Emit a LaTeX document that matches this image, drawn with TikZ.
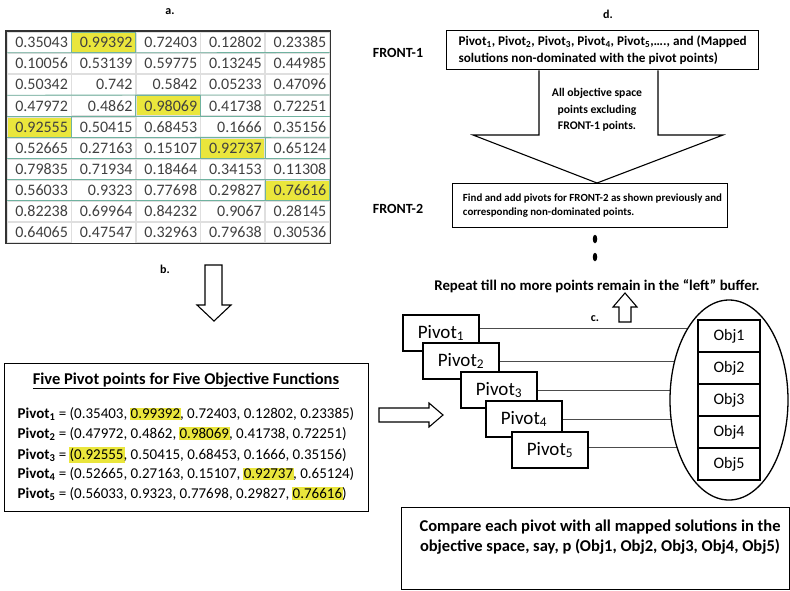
\documentclass[tikz,border=0pt]{standalone}
\usepackage{fontspec}
\setmainfont{Carlito}
\usepackage{tikz}
\usetikzlibrary{shapes.geometric,matrix,positioning,backgrounds}
\definecolor{hlyellow}{RGB}{234,230,60}
\definecolor{gridteal}{RGB}{112,178,160}
\newcommand{\hl}[1]{\hspace{-1pt}{\setlength{\fboxsep}{1pt}\colorbox{hlyellow}{#1}}\hspace{-1pt}}
\newcommand{\fs}[1]{\fontsize{#1}{#1}\selectfont}
\tikzset{
   steplbl/.style={font=\bfseries\fs{12}},
   frontlbl/.style={font=\bfseries\fs{14}},
   pivotbox/.style={draw, fill=white, minimum width=76pt, minimum height=36pt, font=\fs{19}},
   objbox/.style={draw, fill=white, minimum width=62pt, minimum height=32pt, font=\fs{16}},
   blockarrow/.style={draw, line width=1.1pt, fill=white, line join=miter},
   linkline/.style={draw=black!70, line width=0.8pt}
}

\begin{document}
\begin{tikzpicture}[x=1pt, y=-1pt, line width=1.3pt]
   \useasboundingbox (0,0) rectangle (790,590);
   \node[steplbl] (la) at (170,12) {a.};
   \node[steplbl] (lb) at (165,269) {b.};
   \node[steplbl] (lc) at (595,319) {c.};
   \node[steplbl] (ld) at (608,14) {d.};

   \matrix (tab) [matrix of nodes, anchor=north west, inner sep=0pt, row sep=0pt, column sep=0pt,
      nodes={draw=gray!25, line width=0.6pt, minimum height=20.3pt, text width=58pt, inner xsep=3pt, inner ysep=2pt, align=right, font=\fs{16}, text=black!75}] at (6,31) {
      0.35043 & |[fill=hlyellow]| 0.99392 & 0.72403 & 0.12802 & 0.23385 \\
      0.10056 & 0.53139 & 0.59775 & 0.13245 & 0.44985 \\
      0.50342 & 0.742 & 0.5842 & 0.05233 & 0.47096 \\
      0.47972 & 0.4862 & |[fill=hlyellow]| 0.98069 & 0.41738 & 0.72251 \\
      |[fill=hlyellow]| 0.92555 & 0.50415 & 0.68453 & 0.1666 & 0.35156 \\
      0.52665 & 0.27163 & 0.15107 & |[fill=hlyellow]| 0.92737 & 0.65124 \\
      0.79835 & 0.71934 & 0.18464 & 0.34153 & 0.11308 \\
      0.56033 & 0.9323 & 0.77698 & 0.29827 & |[fill=hlyellow]| 0.76616 \\
      0.82238 & 0.69964 & 0.84232 & 0.9067 & 0.28145 \\
      0.64065 & 0.47547 & 0.32963 & 0.79638 & 0.30536 \\
   };
   \foreach \r in {1,3,4,5,6,7,8}
      \draw[gridteal, line width=0.8pt] (tab-\r-1.south west) -- (tab-\r-5.south east);
   \foreach \c in {tab-1-2,tab-4-3,tab-5-1,tab-6-4,tab-8-5}
      \draw[gridteal, line width=0.8pt] (\c.north west) rectangle (\c.south east);
   \draw[black!80, line width=1.4pt] (tab.north west) rectangle (tab.south east);

   \draw[blockarrow] (205,265) -- (222,265) -- (222,305) -- (231,305) -- (214,321) -- (197,305) -- (205,305) -- cycle;

   \node[draw, minimum width=364pt, minimum height=148pt, anchor=north west] (pbox) at (4,363) {};
   \node[font=\bfseries\fs{16.5}] (ptitle) at (186,381) {\underline{Five Pivot points for Five Objective Functions}};
   \begin{scope}[every node/.style={anchor=west, inner sep=0pt, font=\fs{15}}]
    \node (pv1) at (17,414) {\textbf{Pivot\textsubscript{1}} = (0.35403, \hl{0.99392}, 0.72403, 0.12802, 0.23385)};
    \node (pv2) at (17,434) {\textbf{Pivot\textsubscript{2}} = (0.47972, 0.4862, \hl{0.98069}, 0.41738, 0.72251)};
    \node (pv3) at (17,455) {\textbf{Pivot\textsubscript{3}} = \hl{(0.92555}, 0.50415, 0.68453, 0.1666, 0.35156)};
    \node (pv4) at (17,474) {\textbf{Pivot\textsubscript{4}} = (0.52665, 0.27163, 0.15107, \hl{0.92737}, 0.65124)};
    \node (pv5) at (17,494) {\textbf{Pivot\textsubscript{5}} = (0.56033, 0.9323, 0.77698, 0.29827, \hl{0.76616})};
   \end{scope}

   \draw[blockarrow] (379,408) -- (429,408) -- (429,403) -- (443,415) -- (429,427) -- (429,422) -- (379,422) -- cycle;

   \node[pivotbox] (p1) at (441,333) {Pivot\textsubscript{1}};
   \node[pivotbox] (p2) at (461,361) {Pivot\textsubscript{2}};
   \node[pivotbox] (p3) at (499,390) {Pivot\textsubscript{3}};
   \node[pivotbox] (p4) at (524,419) {Pivot\textsubscript{4}};
   \node[pivotbox] (p5) at (550,450) {Pivot\textsubscript{5}};

   \node[draw, ellipse, fill=white, minimum width=118pt, minimum height=200pt, inner sep=0pt] (ell) at (729,400) {};
   \node[objbox] (o1) at (729,336) {Obj1};
   \node[objbox] (o2) at (729,368) {Obj2};
   \node[objbox] (o3) at (729,400) {Obj3};
   \node[objbox] (o4) at (729,432) {Obj4};
   \node[objbox] (o5) at (729,464) {Obj5};
   \begin{scope}[on background layer]
    \draw[linkline] ([yshift=5pt]p1.east) -- ([yshift=5pt]p1.east -| ell.center);
    \draw[linkline] (p2.east) -- (p2.east -| ell.center);
    \draw[linkline] (p3.east) -- (p3.east -| ell.center);
    \draw[linkline] (p4.east) -- (p4.east -| ell.center);
    \draw[linkline] ([yshift=3pt]p5.east) -- ([yshift=3pt]p5.east -| ell.center);
   \end{scope}

   \draw[blockarrow] (619,322) -- (631,322) -- (631,307) -- (637,307) -- (625,293) -- (613,307) -- (619,307) -- cycle;
   \node[font=\bfseries\fs{14.8}] (rep) at (597,286) {Repeat till no more points remain in the “left” buffer.};

   \node[draw, minimum width=388pt, minimum height=82pt, anchor=north west] (cbox) at (401,507) {};
   \node[font=\bfseries\fs{16.5}, align=center] (ctext) at (600,537) {Compare each pivot with all mapped solutions in the\\[4pt]objective space, say, p (Obj1, Obj2, Obj3, Obj4, Obj5)};

   \node[frontlbl] (fr1) at (398,53) {FRONT-1};
   \node[frontlbl] (fr2) at (398,209) {FRONT-2};
   \node[draw, minimum width=312pt, minimum height=39pt, anchor=north west, align=left, font=\bfseries\fs{13.2}] (f1) at (446,30)
      {Pivot\textsubscript{1}, Pivot\textsubscript{2}, Pivot\textsubscript{3}, Pivot\textsubscript{4}, Pivot\textsubscript{5},…., and (Mapped\\[3pt]solutions non-dominated with the pivot points)};
   \draw[blockarrow] (f1.south -| 539,0) -- (539,135) -- (473,135) -- (597,183) -- (723,135) -- (658,135) -- (f1.south -| 658,0);
   \node[font=\bfseries\fs{11.7}, align=center] (atext) at (597,110) {All objective space\\[4.5pt]points excluding\\[4.5pt]FRONT-1 points.};
   \node[draw, minimum width=275pt, minimum height=44pt, anchor=north west] (f2) at (452,183) {};
   \node[anchor=west, align=left, font=\bfseries\fs{10.9}] (f2text) at (459,206) {Find and add pivots for FRONT-2 as shown previously and\\[3pt]corresponding non-dominated points.};
   \node[fill, ellipse, minimum width=4.5pt, minimum height=8.5pt, inner sep=0pt] (dot1) at (595,239) {};
   \node[fill, ellipse, minimum width=4.5pt, minimum height=8.5pt, inner sep=0pt] (dot2) at (595,257) {};
\end{tikzpicture}
\end{document}
